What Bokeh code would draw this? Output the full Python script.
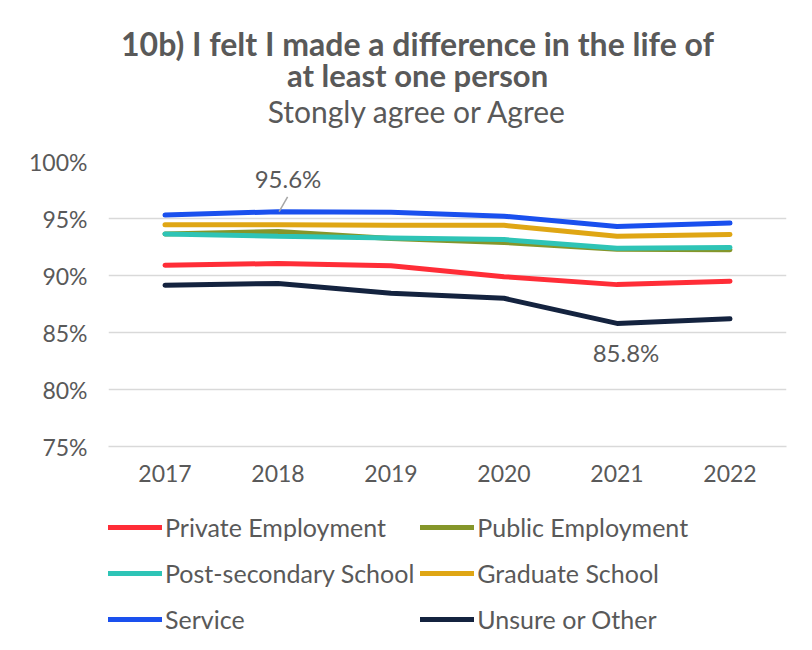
from bokeh.plotting import figure
from bokeh.models import (ColumnDataSource, FixedTicker, PrintfTickFormatter, Range1d,
                          Legend, LegendItem, Label)
from bokeh.layouts import column
from bokeh.transform import dodge
from bokeh.core.properties import value
from bokeh.embed import file_html
from bokeh.resources import INLINE

years = ["2017", "2018", "2019", "2020", "2021", "2022"]
private_emp = [90.9, 91.05, 90.85, 89.9, 89.2, 89.5]
public_emp = [93.65, 93.85, 93.25, 92.9, 92.3, 92.25]
post_secondary = [93.65, 93.45, 93.3, 93.15, 92.4, 92.45]
graduate = [94.45, 94.45, 94.4, 94.4, 93.45, 93.6]
service = [95.3, 95.6, 95.55, 95.2, 94.3, 94.6]
unsure = [89.15, 89.3, 88.45, 88.0, 85.8, 86.2]
y_ticks = [75, 80, 85, 90, 95, 100]

series = [
    ("Private Employment", private_emp, "#FF2D37"),
    ("Public Employment", public_emp, "#85962A"),
    ("Post-secondary School", post_secondary, "#2EC4B6"),
    ("Graduate School", graduate, "#DFA614"),
    ("Service", service, "#1A50EE"),
    ("Unsure or Other", unsure, "#14233F"),
]

FONT = "Lato"
GREY = "#595959"
FS = "23px"

# ---- header (title + subtitle)
hd = figure(width=812, height=140, output_backend="svg", toolbar_location=None,
            x_axis_location=None, y_axis_location=None,
            min_border_left=108, min_border_right=26, min_border_top=0, min_border_bottom=0)
hd.outline_line_color = None
hd.grid.grid_line_color = None
for txt, yy, size, style in [("10b) I felt I made a difference in the life of", 97, "32px", "bold"),
                             ("at least one person", 66, "31px", "bold"),
                             ("Stongly agree or Agree", 30, "30px", "normal")]:
    hd.add_layout(Label(x=309, y=yy, x_units="screen", y_units="screen", text=txt,
                        text_align="center", text_baseline="middle", text_font=FONT,
                        text_font_size=size, text_font_style=style, text_color=GREY))

# ---- main chart
p = figure(width=812, height=360, x_range=years, y_range=Range1d(75, 100),
           output_backend="svg", toolbar_location=None,
           min_border_left=108, min_border_right=26, min_border_top=21, min_border_bottom=54)
p.outline_line_color = None
p.xgrid.grid_line_color = None
p.ygrid.grid_line_color = "#D9D9D9"
p.ygrid.grid_line_width = 1.5
p.yaxis.ticker = FixedTicker(ticks=y_ticks)
p.yaxis.formatter = PrintfTickFormatter(format="%d%%")
for ax in (p.xaxis, p.yaxis):
    ax.axis_line_color = None
    ax.major_tick_line_color = None
    ax.minor_tick_line_color = None
    ax.major_label_text_font = FONT
    ax.major_label_text_font_size = FS
    ax.major_label_text_color = GREY
p.xaxis.axis_line_color = "#D9D9D9"
p.xaxis.axis_line_width = 1.5
p.xaxis.major_label_standoff = 12
p.yaxis.major_label_standoff = 15

for name, vals, color in series:
    src = ColumnDataSource(dict(x=years, y=vals))
    p.line("x", "y", source=src, line_color=color, line_width=5, line_cap="round")

# data labels
lab_src1 = ColumnDataSource(dict(x=[years[1]], y=[service[1]], y1=[service[1] + 1.3],
                                 t=["%.1f%%" % service[1]]))
p.text(x="x", y="y", text="t", source=lab_src1, x_offset=10, y_offset=-33,
       text_align="center", text_baseline="middle", text_font=value(FONT),
       text_font_size="24px", text_color=GREY)
p.segment(x0=dodge("x", 0.01, range=p.x_range), y0="y",
          x1=dodge("x", 0.085, range=p.x_range), y1="y1",
          source=lab_src1, line_color="#A6A6A6", line_width=1.5)
lab_src2 = ColumnDataSource(dict(x=[years[4]], y=[unsure[4]], t=["%.1f%%" % unsure[4]]))
p.text(x="x", y="y", text="t", source=lab_src2, x_offset=9, y_offset=29,
       text_align="center", text_baseline="middle", text_font=value(FONT),
       text_font_size="24px", text_color=GREY)

# ---- legend panel
lg = figure(width=812, height=150, output_backend="svg", toolbar_location=None,
            x_range=Range1d(10, 11), y_range=Range1d(10, 11),
            x_axis_location=None, y_axis_location=None,
            min_border_left=105, min_border_right=26, min_border_top=0, min_border_bottom=0)
lg.outline_line_color = None
lg.grid.grid_line_color = None
items = []
for name, vals, color in series:
    r = lg.line(x=[0, 1], y=vals[:2], line_color=color, line_width=5, line_cap="round")
    items.append(LegendItem(label=name, renderers=[r]))
legend = Legend(items=items, orientation="horizontal", ncols=2, location=(0, 11),
                glyph_width=54, glyph_height=40, label_height=40, spacing=6,
                label_standoff=3, padding=0, margin=0,
                label_text_font=FONT, label_text_font_size="25px", label_text_color=GREY,
                border_line_alpha=0, background_fill_alpha=0)
lg.add_layout(legend, "center")

open("out.html", "w").write(file_html(column(hd, p, lg, spacing=0), INLINE))
